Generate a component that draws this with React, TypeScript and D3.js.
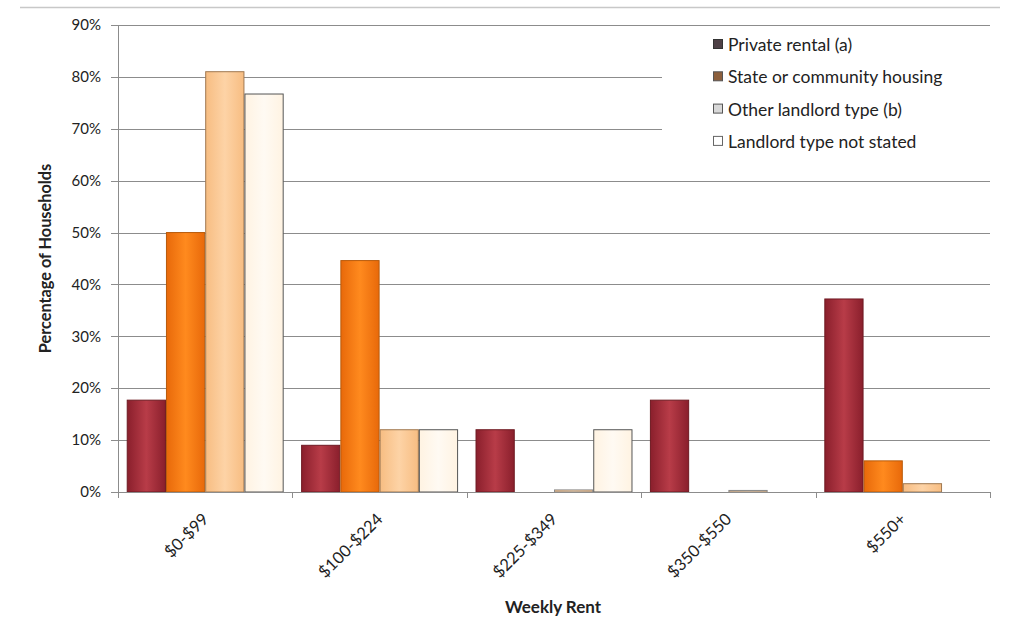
import React from "react";
import * as d3 from "d3";

const categories = ["$0-$99", "$100-$224", "$225-$349", "$350-$550", "$550+"];
const seriesNames = [
  "Private rental (a)",
  "State or community housing",
  "Other landlord type (b)",
  "Landlord type not stated",
];
const privateRental = [0.177, 0.09, 0.12, 0.177, 0.372];
const stateHousing = [0.5, 0.446, 0, 0, 0.06];
const otherLandlord = [0.81, 0.12, 0.004, 0.003, 0.016];
const notStated = [0.767, 0.12, 0.12, 0, 0];
const yTicks = [0, 0.1, 0.2, 0.3, 0.4, 0.5, 0.6, 0.7, 0.8, 0.9];

const seriesValues = [privateRental, stateHousing, otherLandlord, notStated];
const fills = ["url(#gPriv)", "url(#gState)", "url(#gOther)", "url(#gNot)"];
const strokes = ["#6e1a22", "#b85a0a", "#a07850", "#555"];
const legendFills = ["#4e4046", "#8c5f3c", "#d8d8d8", "#fff"];
const legendStrokes = ["#333", "#555", "#555", "#666"];

const W = 1010;
const H = 617;
const left = 118;
const right = 990;
const top = 25;
const bottom = 492;

export default function App() {
  const y = d3.scaleLinear().domain([0, 0.9]).range([bottom, top]);
  const x0 = d3
    .scaleBand<string>()
    .domain(categories)
    .range([left, right])
    .paddingInner(0.1)
    .paddingOuter(0.05);
  const x1 = d3
    .scaleBand<string>()
    .domain(seriesNames)
    .range([0, x0.bandwidth()]);
  const step = x0.step();
  const boundaries = [
    ...categories.map((c) => (x0(c) as number) - step * 0.05),
    right,
  ];
  const font = "Lato, 'Open Sans', sans-serif";

  return (
    <svg width={W} height={H} style={{ position: "absolute", left: 0, top: 0, background: "#fff" }}>
      <defs>
        <linearGradient id="gPriv" x1="0" x2="1" y1="0" y2="0">
          <stop offset="0" stopColor="#8a1f2c" />
          <stop offset="0.5" stopColor="#b83c48" />
          <stop offset="1" stopColor="#8a1f2c" />
        </linearGradient>
        <linearGradient id="gState" x1="0" x2="1" y1="0" y2="0">
          <stop offset="0" stopColor="#e8690a" />
          <stop offset="0.5" stopColor="#ff8a1e" />
          <stop offset="1" stopColor="#e8690a" />
        </linearGradient>
        <linearGradient id="gOther" x1="0" x2="1" y1="0" y2="0">
          <stop offset="0" stopColor="#f7bd82" />
          <stop offset="0.5" stopColor="#fdd3a6" />
          <stop offset="1" stopColor="#f7bd82" />
        </linearGradient>
        <linearGradient id="gNot" x1="0" x2="1" y1="0" y2="0">
          <stop offset="0" stopColor="#fff3e2" />
          <stop offset="0.5" stopColor="#fffaf3" />
          <stop offset="1" stopColor="#fff3e2" />
        </linearGradient>
      </defs>

      {/* top border line */}
      <line x1={20} x2={1000} y1={7.5} y2={7.5} stroke="#c8c8c8" strokeWidth={1.5} />

      {/* gridlines */}
      {yTicks.map((t) => (
        <line
          key={"g" + t}
          x1={left}
          x2={right}
          y1={Math.round(y(t)) + 0.5}
          y2={Math.round(y(t)) + 0.5}
          stroke="#8c8c8c"
          strokeWidth={1}
        />
      ))}

      {/* legend background box hides gridlines */}
      <rect x={662} y={30} width={right - 662} height={140} fill="#fff" />

      {/* y axis */}
      <line x1={left + 0.5} x2={left + 0.5} y1={top} y2={bottom} stroke="#8c8c8c" />
      {yTicks.map((t) => (
        <g key={"yt" + t}>
          <line
            x1={left - 7}
            x2={left}
            y1={Math.round(y(t)) + 0.5}
            y2={Math.round(y(t)) + 0.5}
            stroke="#8c8c8c"
          />
          <text
            x={101}
            y={y(t)}
            dy="0.35em"
            textAnchor="end"
            fontFamily={font}
            fontSize={15}
            fill="#222"
          >
            {d3.format(".0%")(t)}
          </text>
        </g>
      ))}

      {/* bars */}
      {categories.map((c, ci) => (
        <g key={c} transform={`translate(${x0(c)},0)`}>
          {seriesNames.map((s, si) => {
            const v = seriesValues[si][ci];
            if (v <= 0) return null;
            const yy = y(v);
            return (
              <rect
                key={s}
                x={(x1(s) as number) + 0.5}
                y={yy}
                width={x1.bandwidth() - 1}
                height={bottom - yy}
                fill={fills[si]}
                stroke={si === 2 && v < 0.01 ? "#888" : strokes[si]}
                strokeWidth={1}
              />
            );
          })}
        </g>
      ))}

      {/* x axis */}
      <line x1={left} x2={right} y1={bottom + 0.5} y2={bottom + 0.5} stroke="#8c8c8c" />
      {boundaries.map((b, i) => (
        <line
          key={"xt" + i}
          x1={Math.round(b) + 0.5}
          x2={Math.round(b) + 0.5}
          y1={bottom}
          y2={bottom + 6}
          stroke="#8c8c8c"
        />
      ))}
      {categories.map((c) => {
        const cx = (x0(c) as number) + x0.bandwidth() / 2 - 3;
        const cy = 513;
        return (
          <text
            key={"xl" + c}
            transform={`translate(${cx},${cy}) rotate(-45)`}
            textAnchor="end"
            dy="0.62em"
            fontFamily={font}
            fontSize={16.5}
            fill="#222"
          >
            {c}
          </text>
        );
      })}

      {/* axis titles */}
      <text
        x={553}
        y={613}
        textAnchor="middle"
        fontFamily={font}
        fontSize={17}
        fontWeight="bold"
        fill="#222"
      >
        Weekly Rent
      </text>
      <text
        transform={`translate(51,${(top + bottom) / 2}) rotate(-90)`}
        textAnchor="middle"
        fontFamily={font}
        fontSize={16.3}
        fontWeight="bold"
        fill="#222"
      >
        Percentage of Households
      </text>

      {/* legend */}
      {seriesNames.map((s, i) => {
        const ly = 45 + i * 32.3;
        return (
          <g key={"lg" + s}>
            <rect
              x={713.5}
              y={ly - 5.5}
              width={9}
              height={9}
              fill={legendFills[i]}
              stroke={legendStrokes[i]}
            />
            <text
              x={728}
              y={ly}
              dy="0.35em"
              fontFamily={font}
              fontSize={17.5}
              fill="#222"
            >
              {s}
            </text>
          </g>
        );
      })}
    </svg>
  );
}
